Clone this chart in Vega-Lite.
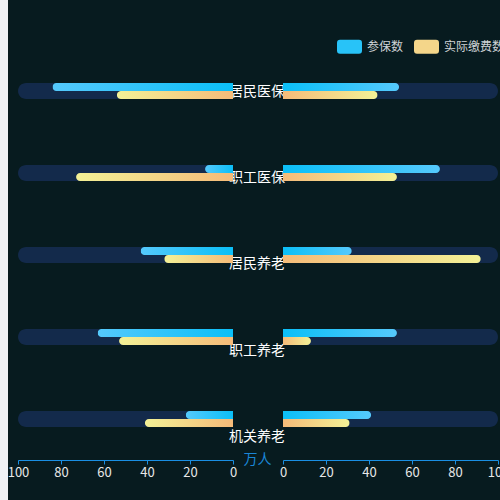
{
  "$schema": "https://vega.github.io/schema/vega-lite/v6.json",
  "autosize": "none",
  "width": 492,
  "height": 500,
  "padding": {"left": 8, "top": 0, "right": 0, "bottom": 0},
  "background": "#f0f2f5",
  "view": {"fill": "#071b1f", "stroke": null},
  "config": {
    "view": {"fill": "#071b1f", "stroke": null},
    "font": "Noto Sans CJK SC"
  },
  "data": {
    "values": [
      {"cat": "居民医保", "left_insured": 84, "left_paid": 54, "right_insured": 54, "right_paid": 44},
      {"cat": "职工医保", "left_insured": 13, "left_paid": 73, "right_insured": 73, "right_paid": 53},
      {"cat": "居民养老", "left_insured": 43, "left_paid": 32, "right_insured": 32, "right_paid": 92},
      {"cat": "职工养老", "left_insured": 63, "left_paid": 53, "right_insured": 53, "right_paid": 13},
      {"cat": "机关养老", "left_insured": 22, "left_paid": 41, "right_insured": 41, "right_paid": 31}
    ]
  },
  "layer": [
    {
      "mark": {"type": "text", "fontSize": 14, "color": "#ffffff", "dx": 24, "align": "center", "baseline": "middle"},
      "encoding": {
        "x": {"datum": 0, "type": "quantitative", "scale": {"domain": [0, 100], "range": [225, 10]}, "axis": null},
        "y": {"field": "cat", "type": "nominal", "sort": null, "axis": null, "scale": {"type": "point", "range": [91.5, 437], "padding": 0}},
        "text": {"field": "cat"}
      }
    },
    {
      "encoding": {
        "y": {"field": "cat", "type": "nominal", "sort": null, "axis": null, "scale": {"range": [50, 460], "paddingInner": 0, "paddingOuter": 0}}
      },
      "layer": [
        {
          "mark": {"type": "bar", "height": 16, "cornerRadius": 8, "color": "#132a4b"},
          "encoding": {
            "x": {
              "datum": 100, "type": "quantitative",
              "scale": {"domain": [0, 100], "range": [225, 10]},
              "axis": {
                "orient": "bottom", "offset": -40, "values": [0, 20, 40, 60, 80, 100], "grid": false,
                "domainColor": "#1a8fe3", "tickColor": "#1a8fe3", "tickSize": 4,
                "labelColor": "#e8e8e8", "labelFontSize": 13, "labelPadding": 2, "labelFlush": false, "labelOverlap": false,
                "title": "万人", "titleColor": "#1a86d6", "titleFontSize": 14, "titleFontWeight": "normal",
                "titleX": 249, "titleY": -1, "titleBaseline": "middle", "titleAlign": "center"
              }
            },
            "x2": {"datum": 0}
          }
        },
        {
          "mark": {
            "type": "bar", "height": 8, "yOffset": -4, "cornerRadiusTopLeft": 4, "cornerRadiusBottomLeft": 4,
            "color": {"gradient": "linear", "x1": 0, "y1": 0, "x2": 1, "y2": 0, "stops": [{"offset": 0, "color": "#55c9fc"}, {"offset": 1, "color": "#0bbff7"}]}
          },
          "encoding": {"x": {"field": "left_insured", "type": "quantitative"}}
        },
        {
          "mark": {
            "type": "bar", "height": 8, "yOffset": 4, "cornerRadiusTopLeft": 4, "cornerRadiusBottomLeft": 4,
            "color": {"gradient": "linear", "x1": 0, "y1": 0, "x2": 1, "y2": 0, "stops": [{"offset": 0, "color": "#f3f196"}, {"offset": 1, "color": "#f5bb79"}]}
          },
          "encoding": {"x": {"field": "left_paid", "type": "quantitative"}}
        }
      ]
    },
    {
      "encoding": {
        "y": {"field": "cat", "type": "nominal", "sort": null, "axis": null, "scale": {"range": [50, 460], "paddingInner": 0, "paddingOuter": 0}}
      },
      "layer": [
        {
          "mark": {"type": "bar", "height": 16, "cornerRadius": 8, "color": "#132a4b"},
          "encoding": {
            "x": {
              "datum": 100, "type": "quantitative",
              "scale": {"domain": [0, 100], "range": [275, 490]},
              "axis": {
                "orient": "bottom", "offset": -40, "values": [0, 20, 40, 60, 80, 100], "grid": false,
                "domainColor": "#1a8fe3", "tickColor": "#1a8fe3", "tickSize": 4,
                "labelColor": "#e8e8e8", "labelFontSize": 13, "labelPadding": 2, "labelFlush": false, "labelOverlap": false,
                "title": null
              }
            },
            "x2": {"datum": 0}
          }
        },
        {
          "mark": {
            "type": "bar", "height": 8, "yOffset": -4, "cornerRadiusTopRight": 4, "cornerRadiusBottomRight": 4,
            "color": {"gradient": "linear", "x1": 0, "y1": 0, "x2": 1, "y2": 0, "stops": [{"offset": 0, "color": "#0bbff7"}, {"offset": 1, "color": "#55c9fc"}]}
          },
          "encoding": {"x": {"field": "right_insured", "type": "quantitative"}}
        },
        {
          "mark": {
            "type": "bar", "height": 8, "yOffset": 4, "cornerRadiusTopRight": 4, "cornerRadiusBottomRight": 4,
            "color": {"gradient": "linear", "x1": 0, "y1": 0, "x2": 1, "y2": 0, "stops": [{"offset": 0, "color": "#f5bb79"}, {"offset": 1, "color": "#f3f196"}]}
          },
          "encoding": {"x": {"field": "right_paid", "type": "quantitative"}}
        }
      ]
    },
    {
      "data": {"values": [{"series": "参保数"}, {"series": "实际缴费数"}]},
      "mark": {"type": "point", "filled": true, "opacity": 0},
      "encoding": {
        "color": {
          "field": "series", "type": "nominal", "sort": null,
          "scale": {"domain": ["参保数", "实际缴费数"], "range": ["#28c3f8", "#f4d68a"]},
          "legend": {
            "orient": "none", "legendX": 329, "legendY": 34, "direction": "horizontal", "title": null,
            "symbolType": "M-0.76,-0.56H0.76Q1,-0.56 1,-0.32V0.32Q1,0.56 0.76,0.56H-0.76Q-1,0.56 -1,0.32V-0.32Q-1,-0.56 -0.76,-0.56Z",
            "symbolSize": 625, "symbolStrokeWidth": 0, "symbolOpacity": 1,
            "labelColor": "#cfd3d6", "labelFontSize": 12, "labelOffset": 5, "columnPadding": 10, "padding": 0
          }
        }
      }
    }
  ],
  "resolve": {"scale": {"x": "independent", "y": "independent"}, "axis": {"x": "independent", "y": "independent"}}
}
